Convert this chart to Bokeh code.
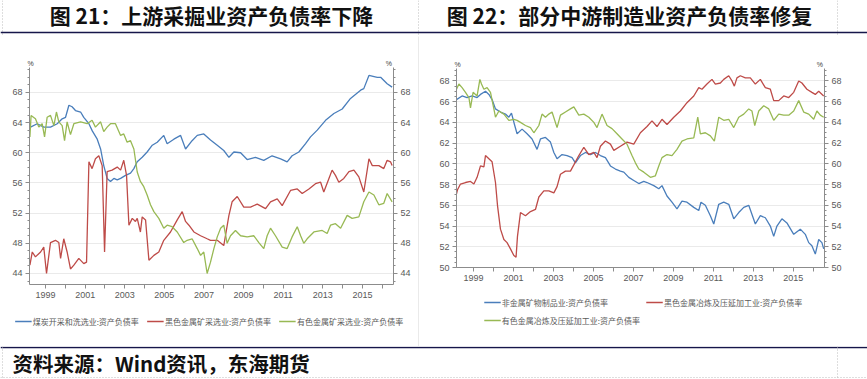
from bokeh.plotting import figure
from bokeh.models import (Range1d, FixedTicker, Legend, LegendItem, Label, Span,
                          LinearAxis, Title)
from bokeh.layouts import column, row
from bokeh.embed import file_html
from bokeh.resources import INLINE

# ---------------- texts ----------------
TITLE_L = "图 21：上游采掘业资产负债率下降"
TITLE_R = "图 22：部分中游制造业资产负债率修复"
SOURCE = "资料来源：Wind资讯，东海期货"
NAMES_L = ["煤炭开采和洗选业:资产负债率", "黑色金属矿采选业:资产负债率", "有色金属矿采选业:资产负债率"]
NAMES_R = ["非金属矿物制品业:资产负债率", "黑色金属冶炼及压延加工业:资产负债率", "有色金属冶炼及压延加工业:资产负债率"]
UNIT = "%"
COLORS = ["#4A7EBB", "#BE4B48", "#98B954"]

YTICKS_L = [44, 48, 52, 56, 60, 64, 68]
YTICKS_R = [50, 52, 54, 56, 58, 60, 62, 64, 66, 68]
XTICKS = list(range(1999, 2017))
XLABELS = [str(y) if y % 2 == 1 else "" for y in XTICKS]

# ---------------- data (year, %) ----------------
coal = [(1998.24, 63.4), (1998.58, 63.85), (1998.91, 63.4), (1999.25, 63.4), (1999.59, 63.85),
        (1999.84, 64.5), (2000.01, 64.7), (2000.18, 66.3), (2000.34, 66.1), (2000.51, 65.6),
        (2000.77, 65.4), (2000.93, 64.7), (2001.19, 63.85), (2001.36, 62.9), (2001.61, 61.8),
        (2001.78, 60.5), (2001.94, 58.3), (2002.11, 56.6), (2002.28, 56.2), (2002.45, 56.6),
        (2002.62, 56.4), (2002.79, 56.6), (2003.04, 57.0), (2003.29, 57.3), (2003.46, 57.9),
        (2003.63, 58.8), (2003.88, 59.4), (2004.13, 60.1), (2004.39, 61.0), (2004.64, 61.4),
        (2004.97, 62.3), (2005.14, 61.2), (2005.48, 61.8), (2005.82, 62.3), (2006.07, 60.5),
        (2006.40, 61.6), (2006.66, 62.3), (2006.99, 62.5), (2007.33, 61.7), (2007.67, 61.0),
        (2008.00, 60.3), (2008.26, 59.4), (2008.51, 60.1), (2008.85, 60.0), (2009.18, 59.1),
        (2009.60, 59.4), (2010.02, 59.0), (2010.44, 59.6), (2010.87, 59.2), (2011.20, 58.8),
        (2011.45, 59.6), (2011.79, 60.1), (2012.13, 61.2), (2012.38, 62.1), (2012.72, 63.0),
        (2013.14, 64.3), (2013.56, 65.2), (2013.98, 65.8), (2014.40, 67.2), (2014.91, 68.3),
        (2015.07, 68.5), (2015.33, 70.25), (2015.75, 70.0), (2015.92, 70.0), (2016.25, 69.15),
        (2016.50, 68.7)]

iron_ore = [(1998.21, 45.1), (1998.33, 46.85), (1998.49, 46.2), (1998.75, 46.85), (1998.91, 47.5),
            (1999.05, 44.0), (1999.25, 48.1), (1999.50, 48.4), (1999.67, 48.1), (1999.76, 46.0),
            (1999.92, 48.6), (2000.09, 46.85), (2000.26, 44.6), (2000.43, 45.1), (2000.68, 46.0),
            (2000.93, 45.3), (2001.07, 45.5), (2001.19, 58.8), (2001.35, 57.9), (2001.52, 59.2),
            (2001.69, 59.6), (2001.86, 58.3), (2001.98, 46.85), (2002.11, 57.5), (2002.36, 57.7),
            (2002.62, 58.1), (2002.79, 57.7), (2002.95, 59.0), (2003.09, 57.0), (2003.21, 50.4),
            (2003.38, 51.3), (2003.54, 50.9), (2003.63, 51.3), (2003.79, 49.5), (2003.88, 51.5),
            (2004.05, 51.1), (2004.22, 45.75), (2004.47, 46.4), (2004.72, 46.85), (2004.97, 48.4),
            (2005.31, 49.5), (2005.65, 51.1), (2005.90, 52.2), (2006.07, 50.9), (2006.24, 50.4),
            (2006.49, 49.5), (2006.83, 49.0), (2007.16, 48.6), (2007.33, 48.4), (2007.67, 48.4),
            (2008.00, 47.7), (2008.26, 51.7), (2008.42, 53.5), (2008.68, 54.2), (2009.01, 52.8),
            (2009.35, 52.8), (2009.69, 53.2), (2010.11, 52.6), (2010.36, 53.5), (2010.70, 53.9),
            (2010.95, 53.0), (2011.37, 55.0), (2011.71, 55.2), (2011.96, 54.6), (2012.30, 55.2),
            (2012.63, 55.9), (2012.89, 56.1), (2013.05, 54.8), (2013.31, 56.6), (2013.47, 57.7),
            (2013.64, 57.0), (2013.81, 56.1), (2014.06, 56.6), (2014.32, 57.5), (2014.57, 57.7),
            (2014.82, 56.8), (2015.07, 54.8), (2015.33, 59.2), (2015.50, 58.3), (2015.83, 58.3),
            (2016.08, 57.9), (2016.25, 59.0), (2016.42, 58.8), (2016.50, 58.3)]

nonferrous_ore = [(1998.21, 62.1), (1998.27, 64.95), (1998.49, 64.5), (1998.66, 63.4), (1998.83, 63.85),
                  (1998.95, 62.1), (1999.08, 64.7), (1999.25, 64.95), (1999.42, 63.6), (1999.55, 65.4),
                  (1999.67, 64.1), (1999.84, 63.6), (1999.96, 61.6), (2000.09, 64.1), (2000.26, 62.4),
                  (2000.43, 63.85), (2000.77, 64.1), (2001.10, 63.85), (2001.35, 64.3), (2001.52, 63.4),
                  (2001.78, 64.1), (2001.94, 62.8), (2002.11, 63.4), (2002.28, 63.85), (2002.53, 63.85),
                  (2002.79, 62.3), (2002.95, 62.5), (2003.12, 61.4), (2003.29, 61.6), (2003.46, 60.5),
                  (2003.63, 57.45), (2003.79, 56.2), (2003.96, 55.5), (2004.13, 54.4), (2004.30, 53.1),
                  (2004.47, 52.2), (2004.72, 51.3), (2004.97, 50.0), (2005.14, 50.4), (2005.39, 50.2),
                  (2005.65, 49.5), (2005.98, 48.1), (2006.15, 48.4), (2006.40, 48.6), (2006.66, 47.3),
                  (2006.83, 46.4), (2006.99, 46.85), (2007.16, 44.0), (2007.33, 45.5), (2007.50, 47.3),
                  (2007.67, 48.85), (2007.84, 50.0), (2008.00, 50.4), (2008.17, 48.0), (2008.34, 49.0),
                  (2008.59, 49.7), (2008.85, 49.0), (2009.18, 48.85), (2009.52, 49.0), (2009.77, 48.1),
                  (2010.02, 47.3), (2010.19, 49.0), (2010.36, 50.0), (2010.61, 49.0), (2010.95, 47.5),
                  (2011.20, 47.3), (2011.45, 48.85), (2011.71, 50.2), (2011.88, 49.0), (2012.04, 48.0),
                  (2012.21, 48.6), (2012.55, 49.5), (2012.97, 49.7), (2013.22, 49.3), (2013.39, 50.4),
                  (2013.64, 50.6), (2013.90, 50.0), (2014.23, 51.7), (2014.48, 51.3), (2014.82, 51.5),
                  (2015.07, 53.5), (2015.33, 54.8), (2015.58, 54.4), (2015.83, 53.1), (2016.08, 53.3),
                  (2016.25, 54.6), (2016.50, 53.5)]

nonmetal = [(1998.15, 66.2), (1998.43, 66.55), (1998.68, 66.4), (1998.93, 66.55), (1999.18, 66.4),
            (1999.35, 66.7), (1999.60, 67.0), (1999.77, 66.7), (1999.93, 66.2), (2000.10, 65.3),
            (2000.35, 65.0), (2000.60, 64.8), (2000.77, 64.5), (2000.90, 64.9), (2001.05, 63.8),
            (2001.18, 62.9), (2001.43, 63.35), (2001.68, 62.9), (2001.93, 62.4), (2002.18, 61.4),
            (2002.35, 62.4), (2002.60, 62.55), (2002.85, 62.1), (2003.02, 61.1), (2003.18, 60.5),
            (2003.43, 60.9), (2003.68, 60.8), (2003.93, 60.6), (2004.10, 60.1), (2004.35, 60.8),
            (2004.60, 61.1), (2004.85, 60.9), (2005.10, 61.1), (2005.35, 60.8), (2005.60, 60.6),
            (2005.85, 59.8), (2006.10, 59.5), (2006.35, 59.3), (2006.52, 59.2), (2006.77, 58.7),
            (2007.02, 58.4), (2007.27, 58.1), (2007.52, 58.3), (2007.68, 58.2), (2008.02, 57.9),
            (2008.27, 57.6), (2008.43, 57.9), (2008.68, 56.9), (2008.93, 56.3), (2009.18, 55.65),
            (2009.43, 56.4), (2009.68, 56.3), (2010.02, 55.8), (2010.27, 55.5), (2010.38, 56.3),
            (2010.60, 56.0), (2010.85, 55.0), (2011.02, 54.2), (2011.27, 56.1), (2011.52, 56.3),
            (2011.77, 56.1), (2012.02, 54.7), (2012.27, 55.3), (2012.52, 55.8), (2012.77, 56.0),
            (2013.10, 54.2), (2013.35, 55.0), (2013.60, 54.8), (2013.85, 54.0), (2014.02, 53.0),
            (2014.18, 54.0), (2014.43, 54.7), (2014.68, 54.3), (2015.02, 53.2), (2015.35, 53.7),
            (2015.60, 53.2), (2015.77, 52.4), (2015.93, 52.1), (2016.10, 51.3), (2016.27, 52.7),
            (2016.43, 52.4), (2016.52, 51.8)]

steel = [(1998.15, 57.1), (1998.20, 57.5), (1998.35, 58.05), (1998.60, 58.2), (1998.85, 58.3),
         (1999.02, 58.05), (1999.18, 58.7), (1999.35, 59.8), (1999.52, 59.7), (1999.60, 60.8),
         (1999.77, 60.5), (1999.93, 60.2), (2000.10, 58.2), (2000.20, 56.0), (2000.35, 53.7),
         (2000.52, 52.7), (2000.68, 52.4), (2000.85, 51.8), (2001.02, 51.15), (2001.13, 51.0),
         (2001.20, 53.0), (2001.35, 55.3), (2001.60, 55.0), (2001.85, 55.4), (2002.10, 55.6),
         (2002.27, 56.8), (2002.52, 57.4), (2002.77, 57.4), (2003.02, 57.2), (2003.18, 57.8),
         (2003.35, 59.0), (2003.60, 59.3), (2003.85, 59.3), (2004.02, 59.9), (2004.27, 60.8),
         (2004.52, 61.6), (2004.77, 60.9), (2005.02, 61.1), (2005.18, 60.6), (2005.35, 61.7),
         (2005.60, 62.2), (2005.85, 61.9), (2006.02, 61.3), (2006.35, 61.7), (2006.68, 62.1),
         (2007.02, 61.9), (2007.35, 63.0), (2007.68, 63.6), (2007.93, 64.15), (2008.18, 63.6),
         (2008.43, 64.3), (2008.68, 63.8), (2009.02, 64.5), (2009.35, 65.1), (2009.68, 65.9),
         (2010.02, 66.55), (2010.27, 67.35), (2010.43, 67.2), (2010.68, 67.7), (2010.93, 68.15),
         (2011.10, 67.7), (2011.35, 67.8), (2011.52, 68.15), (2011.77, 68.5), (2011.93, 68.0),
         (2012.05, 67.5), (2012.18, 68.3), (2012.35, 68.5), (2012.60, 68.3), (2012.85, 68.3),
         (2013.10, 67.7), (2013.35, 68.15), (2013.60, 67.35), (2013.85, 67.2), (2014.02, 66.1),
         (2014.27, 66.1), (2014.52, 66.55), (2014.77, 66.4), (2015.02, 66.9), (2015.27, 68.0),
         (2015.43, 67.8), (2015.68, 67.2), (2015.93, 66.9), (2016.10, 66.7), (2016.27, 67.0),
         (2016.52, 66.55)]

nonferrous_smelt = [(1998.15, 67.2), (1998.27, 67.7), (1998.43, 67.35), (1998.60, 66.9), (1998.77, 66.4),
                    (1998.85, 65.4), (1998.98, 66.9), (1999.18, 66.55), (1999.32, 68.15), (1999.40, 67.7),
                    (1999.52, 67.2), (1999.68, 67.35), (1999.85, 66.9), (2000.02, 65.3), (2000.10, 64.5),
                    (2000.27, 65.1), (2000.52, 64.8), (2000.77, 64.2), (2001.02, 64.3), (2001.18, 64.2),
                    (2001.35, 64.0), (2001.60, 63.7), (2001.85, 63.5), (2002.02, 63.0), (2002.27, 63.7),
                    (2002.43, 64.8), (2002.60, 64.5), (2002.77, 64.8), (2002.93, 65.0), (2003.18, 63.5),
                    (2003.35, 64.7), (2003.60, 65.0), (2003.85, 65.3), (2004.02, 65.5), (2004.27, 64.7),
                    (2004.52, 64.8), (2004.77, 64.5), (2005.02, 64.0), (2005.18, 63.5), (2005.43, 64.8),
                    (2005.68, 63.7), (2005.93, 63.4), (2006.18, 62.9), (2006.43, 62.4), (2006.68, 61.9),
                    (2006.93, 60.8), (2007.10, 60.1), (2007.27, 59.5), (2007.52, 59.2), (2007.85, 58.7),
                    (2008.10, 58.85), (2008.27, 59.8), (2008.43, 60.6), (2008.68, 60.9), (2008.93, 60.8),
                    (2009.18, 61.4), (2009.43, 62.2), (2009.68, 62.4), (2010.02, 62.5), (2010.22, 64.5),
                    (2010.35, 62.9), (2010.60, 63.0), (2010.85, 62.7), (2011.05, 62.2), (2011.27, 64.5),
                    (2011.52, 64.2), (2011.77, 64.3), (2012.02, 63.5), (2012.27, 64.5), (2012.52, 64.8),
                    (2012.77, 65.3), (2012.93, 65.1), (2013.07, 63.7), (2013.27, 65.1), (2013.52, 65.6),
                    (2013.77, 65.3), (2014.02, 64.2), (2014.27, 64.8), (2014.52, 64.7), (2014.77, 64.7),
                    (2015.02, 65.1), (2015.27, 66.1), (2015.52, 65.0), (2015.77, 64.8), (2016.02, 64.3),
                    (2016.18, 65.1), (2016.35, 64.7), (2016.52, 64.5)]

NAVY = "#16164A"
DOT = "#BDBDBD"
AXIS = "#8C8C8C"
TXT = "#595959"
NUM_FONT = "Liberation Sans"
CJK = "Noto Sans CJK SC"
NBSP = "\u00a0"
NAN = float("nan")


def blank(w, h):
    p = figure(width=w, height=h, x_range=Range1d(0, w), y_range=Range1d(h, 0),
               output_backend="svg", toolbar_location=None, min_border=0,
               x_axis_location=None, y_axis_location=None, outline_line_color=None)
    p.grid.visible = False
    return p


def style_axis(ax):
    ax.axis_line_color = AXIS
    ax.major_tick_line_color = AXIS
    ax.minor_tick_line_color = AXIS
    ax.major_tick_out = 4
    ax.major_tick_in = 0
    ax.minor_tick_out = 2
    ax.minor_tick_in = 0
    ax.major_label_text_font = NUM_FONT
    ax.major_label_text_font_size = "9px"
    ax.major_label_text_color = TXT
    ax.major_label_standoff = 3


def chart(w, h, borders, xr, yr, yticks, yminor, series, n_gap):
    bl, br, bt, bb = borders
    p = figure(width=w, height=h, x_range=Range1d(*xr), y_range=Range1d(*yr),
               output_backend="svg", toolbar_location=None,
               min_border_left=bl, min_border_right=br, min_border_top=bt, min_border_bottom=bb,
               outline_line_color=None, background_fill_color="white", border_fill_color="white")
    p.yaxis.ticker = FixedTicker(ticks=yticks, minor_ticks=yminor)
    style_axis(p.yaxis[0])
    ra = LinearAxis(ticker=FixedTicker(ticks=yticks, minor_ticks=yminor))
    style_axis(ra)
    p.add_layout(ra, "right")
    p.xaxis.ticker = FixedTicker(ticks=XTICKS, minor_ticks=[])
    p.xaxis.major_label_overrides = {t: l for t, l in zip(XTICKS, XLABELS)}
    style_axis(p.xaxis[0])
    p.xgrid.visible = False
    p.ygrid.grid_line_color = "#EAEAEA"
    p.ygrid.grid_line_width = 1
    for data, col in zip(series, COLORS):
        xs = [d[0] for d in data]
        ys = [d[1] for d in data]
        p.line(xs, ys, line_color=col, line_width=1.3)
    # unit marks above both value axes
    p.title = Title(text=UNIT + NBSP * n_gap + UNIT, align="left", offset=-2, standoff=1,
                    text_font=NUM_FONT, text_font_size="7px", text_font_style="normal",
                    text_color="#404040")
    return p


def legend_fig(w, h, names, ncols, spacing, loc, margin):
    p = blank(w, h)
    items = []
    for name, col in zip(names, COLORS):
        # swatch-only renderer (no visible data); the legend draws its line sample
        r = p.line([NAN, NAN], [NAN, NAN], line_color=col, line_width=1.3)
        items.append(LegendItem(label=name, renderers=[r]))
    leg = Legend(items=items, orientation="horizontal", location=loc, ncols=ncols,
                 margin=margin, padding=2, spacing=spacing,
                 label_text_font=CJK, label_text_font_size="8px", label_text_color=TXT,
                 glyph_width=17, glyph_height=10, label_height=12, label_standoff=1,
                 border_line_alpha=0, background_fill_alpha=0)
    p.add_layout(leg, "center")
    return p


W, H_HEAD, H_MID, H_FOOT = 867, 36, 310, 33

head = blank(W, H_HEAD)
head.add_layout(Label(x=211, y=14, text=TITLE_L, text_font=CJK, text_font_style="bold",
                      text_font_size="21px", text_color="#111111", text_align="center",
                      text_baseline="middle"))
head.add_layout(Label(x=629, y=14, text=TITLE_R, text_font=CJK, text_font_style="bold",
                      text_font_size="21px", text_color="#111111", text_align="center",
                      text_baseline="middle"))
head.add_layout(Span(location=418, dimension="height", line_color=DOT, line_dash="1 2", line_width=1))
head.add_layout(Span(location=837, dimension="height", line_color=DOT, line_dash="1 2", line_width=1))
head.add_layout(Span(location=2, dimension="height", line_color=DOT, line_dash="1 2", line_width=1))
head.add_layout(Span(location=32, dimension="width", line_color=NAVY, line_width=1.6))

left = chart(418, 274, (29, 25, 31, 26), (1998.19, 2016.57), (42.54, 71.3),
             YTICKS_L, list(range(43, 72)), [coal, iron_ore, nonferrous_ore], 181)
left_leg = legend_fig(418, 36, NAMES_L, 3, 8, "top_center", 3)

divider = blank(1, H_MID)
divider.background_fill_color = "#D6D6D6"
divider.border_fill_color = "#D6D6D6"

right = chart(448, 258, (37, 43, 32, 27), (1998.15, 2016.56), (50, 69.2),
              YTICKS_R, [50 + 0.5 * i for i in range(39)], [nonmetal, steel, nonferrous_smelt], 183)
right_leg = legend_fig(448, 52, NAMES_R, 2, 6, "top_center", 0)

foot = blank(W, H_FOOT)
foot.add_layout(Span(location=1, dimension="width", line_color=NAVY, line_width=1.6))
foot.add_layout(Span(location=837, dimension="height", line_color=DOT, line_dash="1 2", line_width=1))
foot.add_layout(Span(location=2, dimension="height", line_color=DOT, line_dash="1 2", line_width=1))
foot.add_layout(Span(location=31, dimension="width", line_color=DOT, line_dash="1 2", line_width=1))
foot.add_layout(Label(x=12, y=16, text=SOURCE, text_font=CJK, text_font_style="bold",
                      text_font_size="20.5px", text_color="#111111", text_align="left",
                      text_baseline="middle"))

layout = column(head,
                row(column(left, row(left_leg)), divider, column(right, row(right_leg))),
                foot)
open("out.html", "w").write(file_html(layout, INLINE))
